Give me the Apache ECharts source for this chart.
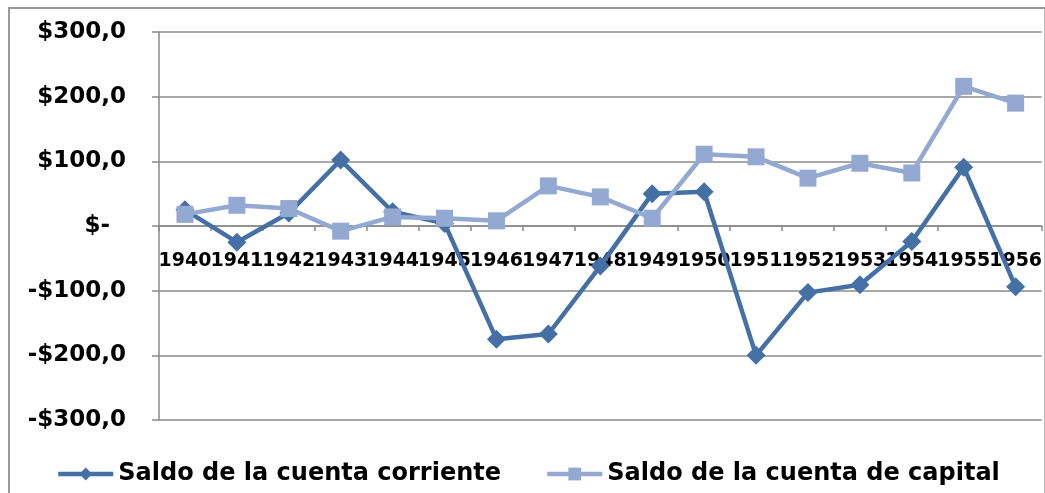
<!DOCTYPE html>
<html>
<head>
<meta charset="utf-8">
<script src="https://cdn.jsdelivr.net/npm/echarts@6/dist/echarts.min.js"></script>
<style>
  html, body { margin: 0; padding: 0; background: #fff; }
  #frame { position: absolute; left: 8px; top: 7px; width: 1034px; height: 500px; border: 2px solid #999; border-right-color: #bbb; }
  #chart { position: absolute; left: 0; top: 0; width: 1045px; height: 493px; }
</style>
</head>
<body>
<div id="frame"></div>
<div id="chart"></div>
<script>
// años del eje x
const years = ['1940', '1941', '1942', '1943', '1944', '1945', '1946', '1947', '1948',
  '1949', '1950', '1951', '1952', '1953', '1954', '1955', '1956'];
// saldos
const cuentaCorriente = [25, -25, 20, 102, 22, 4, -175, -167, -62, 50, 53, -200, -103, -91, -24, 91, -94];
const cuentaCapital = [18, 32, 27, -8, 14, 12, 8, 62, 45, 12, 111, 107, 74, 97, 82, 216, 190];
// etiquetas del eje y
const yTicks = [-300, -200, -100, 0, 100, 200, 300];
const yTickLabels = ['-$300,0', '-$200,0', '-$100,0', '$-  ', '$100,0', '$200,0', '$300,0'];

const FONT = 'DejaVu Sans';
const GRID = '#8a8a8a';

const chart = echarts.init(document.getElementById('chart'));

const option = {
  animation: false,
  grid: { left: 159, right: 1, top: 32, bottom: 73, containLabel: false },
  legend: {
    data: ['Saldo de la cuenta corriente', 'Saldo de la cuenta de capital'],
    left: 51,
    top: 457,
    itemWidth: 55,
    itemHeight: 16,
    itemGap: 44,
    lineStyle: { width: 4.5 },
    textStyle: { fontFamily: FONT, fontWeight: 'bold', fontSize: 24, color: '#000' },
  },
  xAxis: {
    type: 'category',
    data: years,
    boundaryGap: true,
    // el eje se dibuja en el cero (mitad del área)
    offset: -194,
    z: 0,
    axisLine: { onZero: false, lineStyle: { color: GRID, width: 1.5 } },
    axisTick: { show: true, length: 5, lineStyle: { color: GRID, width: 1.5 } },
    axisLabel: {
      interval: 0,
      margin: 26,
      fontFamily: FONT,
      fontWeight: 'bold',
      fontSize: 19,
      color: '#000',
    },
    splitLine: { show: false },
  },
  yAxis: {
    type: 'value',
    min: -300,
    max: 300,
    interval: 100,
    axisLine: { show: true, lineStyle: { color: GRID, width: 1.5 } },
    axisTick: { show: true, length: 7, lineStyle: { color: GRID, width: 1.5 } },
    axisLabel: {
      margin: 33,
      fontFamily: FONT,
      fontWeight: 'bold',
      fontSize: 23,
      color: '#000',
      formatter: (v) => yTickLabels[yTicks.indexOf(v)],
    },
    splitLine: { show: true, lineStyle: { color: GRID, width: 1.5 } },
  },
  series: [
    {
      name: 'Saldo de la cuenta corriente',
      type: 'line',
      data: cuentaCorriente,
      symbol: 'diamond',
      symbolSize: 19,
      showAllSymbol: true,
      z: 3,
      lineStyle: { color: '#4470a5', width: 4.5 },
      itemStyle: { color: '#4470a5' },
    },
    {
      name: 'Saldo de la cuenta de capital',
      type: 'line',
      data: cuentaCapital,
      symbol: 'rect',
      symbolSize: 17,
      showAllSymbol: true,
      z: 4,
      lineStyle: { color: '#94a9d1', width: 4.5 },
      itemStyle: { color: '#94a9d1' },
    },
  ],
};

chart.setOption(option);
</script>
</body>
</html>
